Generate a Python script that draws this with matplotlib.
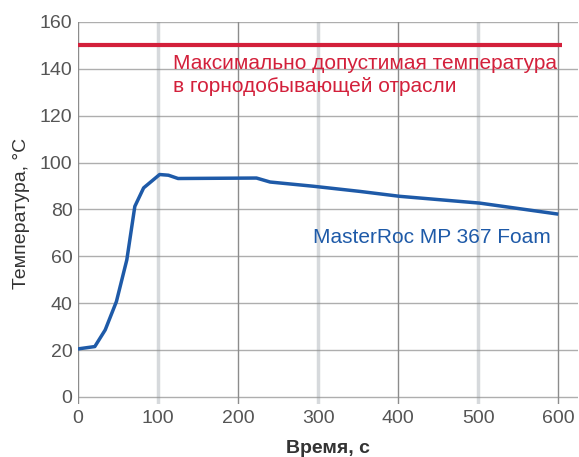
import matplotlib
matplotlib.use("Agg")
import matplotlib.pyplot as plt

plt.rcParams["font.family"] = ["Liberation Sans", "DejaVu Sans"]

red = "#D3203B"
blue = "#1E5AA8"
grid_dark = "#8C8C8C"
grid_light = "#D6D9DC"

# time, s / temperature, C
time_s = [0, 21, 34, 48, 61, 71, 82, 102, 113, 125, 223, 240, 294, 352, 402, 502, 598]
temp_c = [20.5, 21.5, 28.6, 40.7, 58.5, 81.3, 89.2, 94.9, 94.6, 93.2, 93.4, 91.7, 89.9, 87.7, 85.6, 82.7, 78.1]
limit_c = 150
limit_range = [0, 605]

x_ticks = [0, 100, 200, 300, 400, 500, 600]
y_ticks = [0, 20, 40, 60, 80, 100, 120, 140, 160]

fig = plt.figure(figsize=(5.79, 4.57), dpi=100)
ax = fig.add_axes([0.1347, 0.116, 0.864, 0.836])

for s in ax.spines.values():
    s.set_visible(False)

for x in x_ticks:
    c = grid_dark if x % 200 == 0 else grid_light
    lw = 1.0 if x % 200 == 0 else 2.5
    ax.axvline(x, color=c, lw=lw, zorder=0)
for y in y_ticks:
    ax.axhline(y, color=grid_dark, lw=1.0, alpha=0.7, zorder=0)

ax.plot(limit_range, [limit_c, limit_c], color=red, lw=3, solid_capstyle="butt")
ax.plot(time_s, temp_c, color=blue, lw=2.5)

ax.text(119, 137.4, "Максимально допустимая температура\nв горнодобывающей отрасли",
        color=red, fontsize=15, va="center", ha="left", linespacing=1.3)
ax.text(294, 68, "MasterRoc MP 367 Foam", color=blue, fontsize=15,
        va="center", ha="left")

ax.set_xlim(0, 625)
ax.set_ylim(-3, 160)
ax.set_xticks(x_ticks)
ax.set_yticks(y_ticks)
ax.tick_params(length=0, labelsize=14, labelcolor="#555555", pad=4)
ax.set_xlabel("Время, с", fontsize=14, color="#333333", fontweight="bold", labelpad=10)
ax.set_ylabel("Температура, °C", fontsize=14, color="#333333", labelpad=7)

plt.savefig("out.png", dpi=100)
